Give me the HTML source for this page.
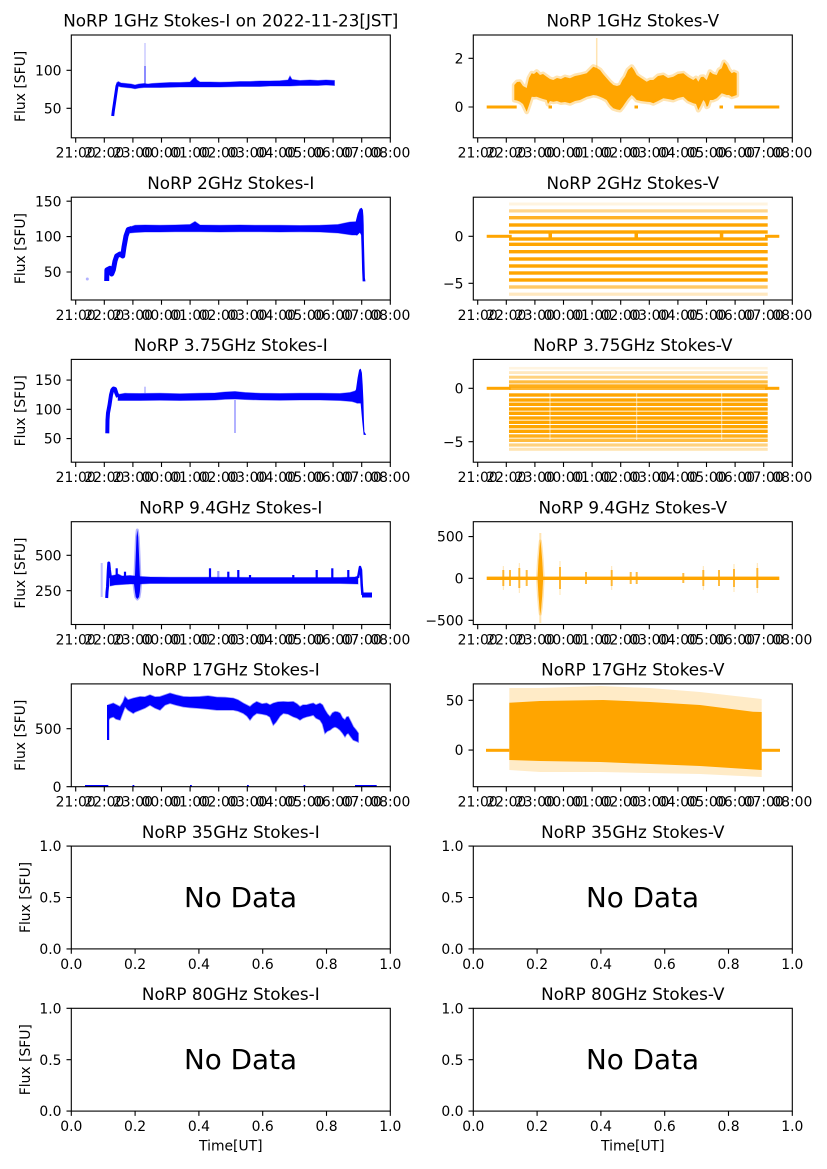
<!DOCTYPE html>
<html><head><meta charset="utf-8"><style>
html,body{margin:0;padding:0;background:#fff;}
svg{display:block;}
text{font-family:"DejaVu Sans","Liberation Sans",sans-serif;fill:#000;}
.t{font-size:16.8px;text-anchor:middle;}
.xt text{font-size:13.9px;text-anchor:middle;}
.yt text{font-size:13.9px;text-anchor:end;}
.yl{font-size:13.9px;text-anchor:middle;}
.nd{font-size:27.8px;}
.sp{fill:none;stroke:#000;stroke-width:1.1;}
.tk{fill:none;stroke:#000;stroke-width:1.1;}
</style></head><body>
<svg width="827" height="1169" viewBox="0 0 827 1169" xmlns="http://www.w3.org/2000/svg">
<rect width="827" height="1169" fill="#fff"/>

<!-- ================= ROW 1 ================= -->
<g fill="#0000ff" stroke="#0000ff">
<polyline points="112.7,116 113.3,111 114.5,103 115.8,94 117,86 118.3,82.5" fill="none" stroke-width="3" stroke-linejoin="round"/>
<polygon stroke-width="1" stroke-opacity="0.4" points="118,81.5 121,83 126,83.5 131,84 135,85 139,84 144,83.5 148,84 152,83.5 160,83 170,82.5 180,82.5 190,82 193,79 195,77 197,80 200,82 210,82 220,82.3 230,82 240,81.5 250,81.5 260,81 270,81 280,80.8 288,80 290,76 292,79.5 300,80.5 310,80 318,80.5 326,80 334.5,80.5 334.5,85.5 326,85 318,85.5 310,85.5 300,85.5 290,86 280,86 270,86 260,86.5 250,86.5 240,86.5 230,86.8 220,87 210,87 200,87 190,87 180,87 170,87.3 160,87.5 150,87.5 144,87.5 139,88 135,88.8 131,88 126,87.5 121,87 118,86"/>
<line x1="145" y1="84" x2="145" y2="66" stroke-width="1.5" stroke-opacity="0.6"/>
<line x1="145" y1="66" x2="145" y2="43" stroke-width="1.2" stroke-opacity="0.25"/>
</g>
<g fill="#ffa500">
<polygon stroke="#ffa500" stroke-opacity="0.3" stroke-width="5" stroke-linejoin="round" points="514.3,85 517,82 520,81.7 523,86 526.7,88 529,78 531.7,73.3 534,74 536.7,71.7 540,75 543,74 546.7,76.7 550,79 553.3,80 557,78 561,79 565,77 570,78.3 575,76 580,75 586.7,73.3 590,70 593.3,66.7 596.7,68 600,70 603,74 606.7,78.3 610,82 613.3,85 617,86 620,85 622.5,80 625,76.7 628,70 631.7,66.7 634,70 636.7,75 641,78 646.7,81.7 650,80 653.3,80 658,76 663.3,75 668,78 673.3,76.7 678,74 683.3,73.3 688,77 693.3,80 696,78 698.3,81.7 701,77 703.3,76.7 706.7,80 710,71.7 713,74 716.7,75 719,70 721.7,68.3 724,62 726.7,65 729,70 731.7,73.3 734,72 736.7,73.3 736.7,95 734,96 731.7,96.7 729,95 726.7,95 724,94 721.7,93.3 719,96 716.7,98.3 713,100 710,100 708,106 706.7,106.7 705,102 703.3,100 700.5,106 698.3,110 696,104 693.3,103.3 688,101 683.3,96.7 678,98 673.3,100 668,99 663.3,98.3 658,101 653.3,103.3 650,102 646.7,101.7 641,101 636.7,100 634,97 631.7,95 628,99 625,103.3 622.5,107 620,110 617,109.5 613.3,108.3 610,105 606.7,100 603,98 600,96.7 596.7,95.5 593.3,95 590,96 586.7,96.7 580,100 575,101 570,103.3 565,102 561,102.5 557,101 553.3,101.7 550,101 548,104 546.7,100 543,99 540,98 536.7,96.7 534,97 531.7,96.7 529,105 526.7,111.7 523,104 520,101.7 517,100.5 514.3,100"/>
<line x1="596.7" y1="70" x2="596.7" y2="38" stroke="#ffa500" stroke-width="1.5" stroke-opacity="0.3"/>
<rect x="486.7" y="105.5" width="30" height="3"/>
<rect x="734.3" y="105.5" width="45" height="3"/>
<rect x="548.5" y="105.5" width="3.5" height="3"/>
<rect x="634.5" y="105.5" width="3.5" height="3"/>
<rect x="719.5" y="105.5" width="3.5" height="3"/>
</g>

<!-- ================= ROW 2 ================= -->
<g fill="#0000ff" stroke="#0000ff">
<circle cx="87.3" cy="279" r="1.5" stroke="none" fill-opacity="0.3"/>
<polyline points="106.7,281 106.9,270 110,268.3 111.7,274 113.3,270 115,261 116.7,256 120,254 122.7,256 124,247 126,236 128.3,229.5 131.7,228.5" fill="none" stroke-width="5" stroke-linejoin="round"/>
<polygon stroke-width="1" stroke-opacity="0.4" points="130,227 135,225.3 145,225 160,225.3 175,225 190,224.5 195,221.5 200,225 220,225.3 240,225 260,225.3 280,225.3 300,225.5 320,225.3 338,224.5 345,223 350,222 355,221.7 357,222 357,235 352,235 345,234 338,233 320,232 300,231.7 280,232 260,231.7 240,231.7 220,232 200,231.7 190,231.7 175,231.7 160,232 145,232 135,232.5 130,233"/>
<polygon stroke-width="0.8" points="356,222 358,214 360,209 361.5,208.3 362.5,210 363,216 363.3,225 363.5,240 364,260 364.5,278 365,281 363,281 362.5,270 362,250 361.5,235 360,232 357,235"/>
</g>
<g fill="#ffa500">
<rect x="509" y="223.3" width="258.7" height="3.4"/>
<rect x="509" y="230.3" width="258.7" height="3.4"/>
<rect x="509" y="237.3" width="258.7" height="3.4"/>
<rect x="509" y="242.6" width="258.7" height="3.4"/>
<rect x="509" y="250" width="258.7" height="3.4"/>
<rect x="509" y="257.3" width="258.7" height="3.4"/>
<rect x="509" y="264.3" width="258.7" height="3.4"/>
<rect x="509" y="271.3" width="258.7" height="3.4"/>
<rect x="509" y="278.3" width="258.7" height="3.4"/>
<rect x="509" y="216" width="258.7" height="3.4" fill-opacity="0.85"/>
<rect x="509" y="285.3" width="258.7" height="3.4" fill-opacity="0.6"/>
<rect x="509" y="209.3" width="258.7" height="3.2" fill-opacity="0.45"/>
<rect x="509" y="292.6" width="258.7" height="3.2" fill-opacity="0.25"/>
<rect x="509" y="202.5" width="258.7" height="3" fill-opacity="0.12"/>
<rect x="486.7" y="234.8" width="25" height="3"/>
<rect x="765" y="234.8" width="14.3" height="3"/>
<rect x="548.5" y="233.5" width="3.5" height="4"/>
<rect x="634.5" y="233.5" width="3.5" height="4"/>
<rect x="719.8" y="233.5" width="3.5" height="4"/>
</g>

<!-- ================= ROW 3 ================= -->
<g fill="#0000ff" stroke="#0000ff">
<polyline points="107.3,433.3 107.5,420 108,413 109.5,405 111,395 112.3,390 113.5,388.5 115,389 116.3,393 118,397" fill="none" stroke-width="4" stroke-linejoin="round"/>
<polygon stroke-width="1" stroke-opacity="0.4" points="118,394.5 125,393.3 140,393.5 160,393.3 180,393.8 200,393.3 215,393 225,392 235,391.5 245,392.5 260,393.3 280,393.5 300,393.3 320,393.3 340,393.5 350,392.5 355,391 357,389 357,403 352,401.5 340,400.5 320,400 300,400 280,400.3 260,400 245,399.5 235,399 225,399.3 215,400 200,400.3 180,400.5 160,400.3 140,400.5 125,400.5 118,400.5"/>
<polygon stroke-width="0.8" points="356,392 358,378 359.5,370 360.5,369.3 361.5,373 362.3,385 363,400 363.5,420 364,432 365.5,434.5 364,434.5 362.5,420 361,403 357,403"/>
<line x1="235" y1="400" x2="235" y2="433" stroke-width="2" stroke-opacity="0.3"/>
<line x1="145" y1="393" x2="145" y2="386.7" stroke-width="1.5" stroke-opacity="0.3"/>
</g>
<g fill="#ffa500">
<rect x="509" y="393.3" width="258.7" height="3.4"/>
<rect x="509" y="398.3" width="258.7" height="3.4"/>
<rect x="509" y="402.6" width="258.7" height="3.4"/>
<rect x="509" y="407.3" width="258.7" height="3.4"/>
<rect x="509" y="411.6" width="258.7" height="3.4"/>
<rect x="509" y="416.3" width="258.7" height="3.4"/>
<rect x="509" y="420.6" width="258.7" height="3.4"/>
<rect x="509" y="425" width="258.7" height="3.4"/>
<rect x="509" y="429.6" width="258.7" height="3.4"/>
<rect x="509" y="384.3" width="258.7" height="3.4" fill-opacity="0.9"/>
<rect x="509" y="387" width="258.7" height="3" fill-opacity="0.8"/>
<rect x="509" y="380.3" width="258.7" height="3.2" fill-opacity="0.75"/>
<rect x="509" y="434.3" width="258.7" height="3.4" fill-opacity="0.9"/>
<rect x="509" y="438.6" width="258.7" height="3.4" fill-opacity="0.75"/>
<rect x="509" y="375.7" width="258.7" height="3" fill-opacity="0.5"/>
<rect x="509" y="371.2" width="258.7" height="2.8" fill-opacity="0.25"/>
<rect x="509" y="366.9" width="258.7" height="2.6" fill-opacity="0.12"/>
<rect x="509" y="443.4" width="258.7" height="3.2" fill-opacity="0.5"/>
<rect x="509" y="447.8" width="258.7" height="3" fill-opacity="0.3"/>
<rect x="486.7" y="386.8" width="24" height="3"/>
<rect x="765" y="386.8" width="14.3" height="3"/>
</g>
<g stroke="#fff" stroke-width="1" stroke-opacity="0.6">
<line x1="550" y1="392" x2="550" y2="440"/>
<line x1="636.7" y1="392" x2="636.7" y2="440"/>
<line x1="721.7" y1="392" x2="721.7" y2="440"/>
</g>

<!-- ================= ROW 4 ================= -->
<g fill="#0000ff" stroke="#0000ff">
<line x1="101.7" y1="563" x2="101.7" y2="597" stroke-width="2" stroke-opacity="0.25"/>
<polyline points="106.7,598 107,592 107.5,587 108.3,570 108.8,563 109.5,570 110.5,578" fill="none" stroke-width="3" stroke-linejoin="round"/>
<polygon stroke-width="1" stroke-opacity="0.4" points="110,576 115,575 118,574 122,576 130,575.5 140,576.5 150,577 170,577.3 200,577.3 230,577.3 260,577.5 290,577.5 320,577.5 340,577.5 355,577 358,576 358,584 340,583.5 320,583.5 290,583.5 260,583.5 230,583.5 200,583.5 170,583.5 150,583.5 140,584 130,584 122,584.5 115,585 110,586"/>
<g stroke-width="2.2" fill="none">
<line x1="116.7" y1="578" x2="116.7" y2="568.3"/>
<line x1="125" y1="578" x2="125" y2="571.7"/>
<line x1="210" y1="578" x2="210" y2="568.3"/>
<line x1="218.3" y1="578" x2="218.3" y2="571" stroke-opacity="0.4"/>
<line x1="228.3" y1="578" x2="228.3" y2="571.7"/>
<line x1="238.3" y1="578" x2="238.3" y2="570"/>
<line x1="250" y1="578" x2="250" y2="575"/>
<line x1="293.3" y1="578" x2="293.3" y2="575"/>
<line x1="316.7" y1="578" x2="316.7" y2="570"/>
<line x1="332.3" y1="578" x2="332.3" y2="568.3"/>
<line x1="348.3" y1="578" x2="348.3" y2="570"/>
</g>
<polygon stroke-width="3" stroke-opacity="0.3" stroke-linejoin="round" points="134,584 135,575 135.8,555 136.5,537 137.3,530 138.2,537 139,555 139.8,575 140.5,584 139.8,592 139,597 137.3,599 135.8,597 135,592"/>
<polyline points="358,578 360,567 361,570 361.7,585 362.5,595" fill="none" stroke-width="2.5" stroke-linejoin="round"/>
<rect x="362" y="592.5" width="10" height="5" stroke="none"/>
</g>
<g fill="#ffa500" stroke="#ffa500">
<rect x="486.7" y="576.6" width="292.6" height="3.4" stroke="none"/>
<line x1="540.3" y1="533" x2="540.3" y2="623" stroke-width="2" stroke-opacity="0.3"/>
<polygon stroke-width="3" stroke-opacity="0.3" stroke-linejoin="round" points="537.5,578 538.5,560 539.5,548 540.3,541 541.2,548 542.2,560 543.2,578 542.2,596 541.2,608 540.3,614 539.5,608 538.5,596"/>
<g stroke-width="2" stroke-opacity="0.75" fill="none">
<line x1="503.3" y1="570" x2="503.3" y2="586"/>
<line x1="510" y1="570" x2="510" y2="586"/>
<line x1="519.3" y1="568" x2="519.3" y2="588"/>
<line x1="526.7" y1="570" x2="526.7" y2="586"/>
<line x1="560" y1="567" x2="560" y2="589"/>
<line x1="586" y1="572" x2="586" y2="584"/>
<line x1="611.7" y1="570" x2="611.7" y2="586"/>
<line x1="630.7" y1="572" x2="630.7" y2="584"/>
<line x1="636.7" y1="572" x2="636.7" y2="584"/>
<line x1="683.3" y1="573" x2="683.3" y2="583"/>
<line x1="703.3" y1="570" x2="703.3" y2="586"/>
<line x1="719" y1="570" x2="719" y2="586"/>
<line x1="734" y1="569" x2="734" y2="587"/>
<line x1="757.3" y1="568" x2="757.3" y2="588"/>
</g>
<g stroke-width="1" stroke-opacity="0.3" fill="none">
<line x1="503.3" y1="566" x2="503.3" y2="590"/>
<line x1="519.3" y1="563" x2="519.3" y2="593"/>
<line x1="560" y1="561" x2="560" y2="595"/>
<line x1="611.7" y1="566" x2="611.7" y2="590"/>
<line x1="703.3" y1="566" x2="703.3" y2="590"/>
<line x1="734" y1="564" x2="734" y2="592"/>
<line x1="757.3" y1="563" x2="757.3" y2="593"/>
</g>
</g>

<!-- ================= ROW 5 ================= -->
<g fill="#0000ff" stroke="#0000ff">
<rect x="107" y="705" width="2.2" height="35" stroke="none"/>
<polygon stroke-width="1.5" stroke-opacity="0.4" points="108.3,705 113.3,703.3 120,706.7 123,702 125,696.7 128,700 133.3,698.3 140,696.7 145,697 150,695 155,697 160,696.7 165,695 170,693.3 176,695 183.3,696.7 190,697 200,696.7 208,696 216.7,697.3 225,697.5 233.3,698.3 238,700 243.3,703.3 250,706.7 253,704 256.7,701.7 262,704 266.7,703.3 270,705 273.3,703.3 278,702 283.3,701.7 288,702 293.3,701.7 297,704 300,706.7 303,705 306.7,705 310,704 313.3,703.3 316,705 320,703.3 322.5,705 325,710 327.5,714 330,716.7 332.5,713 335,711.7 337.5,712 340,713.3 342.5,718 345,720 346.7,717 348.3,716.7 351,722 353.3,726.7 356,730 358.3,733.3 358.3,742 356,741 353.3,740 351,737 348.3,733.3 346.7,734 345,736.7 342.5,733 340,730 337.5,728 335,726.7 332.5,728 330,730 327.5,731 325,733.3 322.5,724 320,720 316,718 313.3,715 310,716 306.7,716.7 303,718 300,720 297,718 293.3,716.7 288,714 283.3,713.3 280,716 276,722 273.3,725 270,717 266.7,715 262,714 256.7,713.3 253,716 250,720 247,716 243.3,713.3 238,711 233.3,710 225,710 216.7,710 208,709 200,708.3 190,707.5 183.3,706.7 176,705 170,703.3 165,705 160,710 155,708 150,705 145,708 140,710 135,712 133.3,713.3 128,710 125,706.7 123,712 120,720 116,719 113.3,716.7 110,718 108.3,720"/>
<g stroke="none">
<rect x="85" y="785" width="23.3" height="1.8"/>
<rect x="132.5" y="785" width="1.8" height="1.8"/>
<rect x="190" y="785" width="1.8" height="1.8"/>
<rect x="247" y="785" width="1.8" height="1.8"/>
<rect x="303.5" y="785" width="1.8" height="1.8"/>
<rect x="355" y="785" width="21.7" height="1.8"/>
</g>
</g>
<g fill="#ffa500">
<polygon fill-opacity="0.22" points="509.3,688 540,688 600,686 650,688 700,692 753,698 761.7,699 761.7,777 700,774 600,772 540,772 509.3,770"/>
<polygon points="509.3,702.7 540,701 603,700 650,702 700,705 753,711.7 761.7,712 761.7,770 700,766 600,762 540,761 509.3,760"/>
<rect x="486" y="748.8" width="23.3" height="3"/>
<rect x="761.7" y="748.8" width="18.3" height="3"/>
</g>

<!-- ================= SPINES ================= -->
<g class="sp">
<rect x="71.3" y="35" width="319" height="102.8"/>
<rect x="473.3" y="35" width="319" height="102.8"/>
<rect x="71.3" y="197.2" width="319" height="102.8"/>
<rect x="473.3" y="197.2" width="319" height="102.8"/>
<rect x="71.3" y="359.4" width="319" height="102.8"/>
<rect x="473.3" y="359.4" width="319" height="102.8"/>
<rect x="71.3" y="521.7" width="319" height="102.8"/>
<rect x="473.3" y="521.7" width="319" height="102.8"/>
<rect x="71.3" y="683.9" width="319" height="102.8"/>
<rect x="473.3" y="683.9" width="319" height="102.8"/>
<rect x="71.3" y="846.1" width="319" height="102.8"/>
<rect x="473.3" y="846.1" width="319" height="102.8"/>
<rect x="71.3" y="1008.3" width="319" height="102.8"/>
<rect x="473.3" y="1008.3" width="319" height="102.8"/>
</g>

<!-- ================= TITLES ================= -->
<text class="t" x="230.8" y="26.7">NoRP 1GHz Stokes-I on 2022-11-23[JST]</text>
<text class="t" x="632.8" y="26.7">NoRP 1GHz Stokes-V</text>
<text class="t" x="230.8" y="188.9">NoRP 2GHz Stokes-I</text>
<text class="t" x="632.8" y="188.9">NoRP 2GHz Stokes-V</text>
<text class="t" x="230.8" y="351.1">NoRP 3.75GHz Stokes-I</text>
<text class="t" x="632.8" y="351.1">NoRP 3.75GHz Stokes-V</text>
<text class="t" x="230.8" y="513.4">NoRP 9.4GHz Stokes-I</text>
<text class="t" x="632.8" y="513.4">NoRP 9.4GHz Stokes-V</text>
<text class="t" x="230.8" y="675.6">NoRP 17GHz Stokes-I</text>
<text class="t" x="632.8" y="675.6">NoRP 17GHz Stokes-V</text>
<text class="t" x="230.8" y="837.8">NoRP 35GHz Stokes-I</text>
<text class="t" x="632.8" y="837.8">NoRP 35GHz Stokes-V</text>
<text class="t" x="230.8" y="1000">NoRP 80GHz Stokes-I</text>
<text class="t" x="632.8" y="1000">NoRP 80GHz Stokes-V</text>

<!-- ================= Y LABELS ================= -->
<text class="yl" transform="translate(25,86.4) rotate(-90)">Flux [SFU]</text>
<text class="yl" transform="translate(25,248.6) rotate(-90)">Flux [SFU]</text>
<text class="yl" transform="translate(25,410.8) rotate(-90)">Flux [SFU]</text>
<text class="yl" transform="translate(25,573.1) rotate(-90)">Flux [SFU]</text>
<text class="yl" transform="translate(25,735.3) rotate(-90)">Flux [SFU]</text>
<text class="yl" transform="translate(30,897.5) rotate(-90)">Flux [SFU]</text>
<text class="yl" transform="translate(30,1059.7) rotate(-90)">Flux [SFU]</text>

<!-- ================= TIME X AXES ================= -->
<g transform="translate(0,137.8)" class="xt"><path class="tk" d="M75.7,0v4.8M104.3,0v4.8M132.9,0v4.8M161.5,0v4.8M190.1,0v4.8M218.7,0v4.8M247.3,0v4.8M275.9,0v4.8M304.5,0v4.8M333.1,0v4.8M361.7,0v4.8M390.3,0v4.8"/><text x="75.7" y="19.9">21:00</text><text x="104.3" y="19.9">22:00</text><text x="132.9" y="19.9">23:00</text><text x="161.5" y="19.9">00:00</text><text x="190.1" y="19.9">01:00</text><text x="218.7" y="19.9">02:00</text><text x="247.3" y="19.9">03:00</text><text x="275.9" y="19.9">04:00</text><text x="304.5" y="19.9">05:00</text><text x="333.1" y="19.9">06:00</text><text x="361.7" y="19.9">07:00</text><text x="390.3" y="19.9">08:00</text></g>
<g transform="translate(402,137.8)" class="xt"><path class="tk" d="M75.7,0v4.8M104.3,0v4.8M132.9,0v4.8M161.5,0v4.8M190.1,0v4.8M218.7,0v4.8M247.3,0v4.8M275.9,0v4.8M304.5,0v4.8M333.1,0v4.8M361.7,0v4.8M390.3,0v4.8"/><text x="75.7" y="19.9">21:00</text><text x="104.3" y="19.9">22:00</text><text x="132.9" y="19.9">23:00</text><text x="161.5" y="19.9">00:00</text><text x="190.1" y="19.9">01:00</text><text x="218.7" y="19.9">02:00</text><text x="247.3" y="19.9">03:00</text><text x="275.9" y="19.9">04:00</text><text x="304.5" y="19.9">05:00</text><text x="333.1" y="19.9">06:00</text><text x="361.7" y="19.9">07:00</text><text x="390.3" y="19.9">08:00</text></g>
<g transform="translate(0,300)" class="xt"><path class="tk" d="M75.7,0v4.8M104.3,0v4.8M132.9,0v4.8M161.5,0v4.8M190.1,0v4.8M218.7,0v4.8M247.3,0v4.8M275.9,0v4.8M304.5,0v4.8M333.1,0v4.8M361.7,0v4.8M390.3,0v4.8"/><text x="75.7" y="19.9">21:00</text><text x="104.3" y="19.9">22:00</text><text x="132.9" y="19.9">23:00</text><text x="161.5" y="19.9">00:00</text><text x="190.1" y="19.9">01:00</text><text x="218.7" y="19.9">02:00</text><text x="247.3" y="19.9">03:00</text><text x="275.9" y="19.9">04:00</text><text x="304.5" y="19.9">05:00</text><text x="333.1" y="19.9">06:00</text><text x="361.7" y="19.9">07:00</text><text x="390.3" y="19.9">08:00</text></g>
<g transform="translate(402,300)" class="xt"><path class="tk" d="M75.7,0v4.8M104.3,0v4.8M132.9,0v4.8M161.5,0v4.8M190.1,0v4.8M218.7,0v4.8M247.3,0v4.8M275.9,0v4.8M304.5,0v4.8M333.1,0v4.8M361.7,0v4.8M390.3,0v4.8"/><text x="75.7" y="19.9">21:00</text><text x="104.3" y="19.9">22:00</text><text x="132.9" y="19.9">23:00</text><text x="161.5" y="19.9">00:00</text><text x="190.1" y="19.9">01:00</text><text x="218.7" y="19.9">02:00</text><text x="247.3" y="19.9">03:00</text><text x="275.9" y="19.9">04:00</text><text x="304.5" y="19.9">05:00</text><text x="333.1" y="19.9">06:00</text><text x="361.7" y="19.9">07:00</text><text x="390.3" y="19.9">08:00</text></g>
<g transform="translate(0,462.2)" class="xt"><path class="tk" d="M75.7,0v4.8M104.3,0v4.8M132.9,0v4.8M161.5,0v4.8M190.1,0v4.8M218.7,0v4.8M247.3,0v4.8M275.9,0v4.8M304.5,0v4.8M333.1,0v4.8M361.7,0v4.8M390.3,0v4.8"/><text x="75.7" y="19.9">21:00</text><text x="104.3" y="19.9">22:00</text><text x="132.9" y="19.9">23:00</text><text x="161.5" y="19.9">00:00</text><text x="190.1" y="19.9">01:00</text><text x="218.7" y="19.9">02:00</text><text x="247.3" y="19.9">03:00</text><text x="275.9" y="19.9">04:00</text><text x="304.5" y="19.9">05:00</text><text x="333.1" y="19.9">06:00</text><text x="361.7" y="19.9">07:00</text><text x="390.3" y="19.9">08:00</text></g>
<g transform="translate(402,462.2)" class="xt"><path class="tk" d="M75.7,0v4.8M104.3,0v4.8M132.9,0v4.8M161.5,0v4.8M190.1,0v4.8M218.7,0v4.8M247.3,0v4.8M275.9,0v4.8M304.5,0v4.8M333.1,0v4.8M361.7,0v4.8M390.3,0v4.8"/><text x="75.7" y="19.9">21:00</text><text x="104.3" y="19.9">22:00</text><text x="132.9" y="19.9">23:00</text><text x="161.5" y="19.9">00:00</text><text x="190.1" y="19.9">01:00</text><text x="218.7" y="19.9">02:00</text><text x="247.3" y="19.9">03:00</text><text x="275.9" y="19.9">04:00</text><text x="304.5" y="19.9">05:00</text><text x="333.1" y="19.9">06:00</text><text x="361.7" y="19.9">07:00</text><text x="390.3" y="19.9">08:00</text></g>
<g transform="translate(0,624.5)" class="xt"><path class="tk" d="M75.7,0v4.8M104.3,0v4.8M132.9,0v4.8M161.5,0v4.8M190.1,0v4.8M218.7,0v4.8M247.3,0v4.8M275.9,0v4.8M304.5,0v4.8M333.1,0v4.8M361.7,0v4.8M390.3,0v4.8"/><text x="75.7" y="19.9">21:00</text><text x="104.3" y="19.9">22:00</text><text x="132.9" y="19.9">23:00</text><text x="161.5" y="19.9">00:00</text><text x="190.1" y="19.9">01:00</text><text x="218.7" y="19.9">02:00</text><text x="247.3" y="19.9">03:00</text><text x="275.9" y="19.9">04:00</text><text x="304.5" y="19.9">05:00</text><text x="333.1" y="19.9">06:00</text><text x="361.7" y="19.9">07:00</text><text x="390.3" y="19.9">08:00</text></g>
<g transform="translate(402,624.5)" class="xt"><path class="tk" d="M75.7,0v4.8M104.3,0v4.8M132.9,0v4.8M161.5,0v4.8M190.1,0v4.8M218.7,0v4.8M247.3,0v4.8M275.9,0v4.8M304.5,0v4.8M333.1,0v4.8M361.7,0v4.8M390.3,0v4.8"/><text x="75.7" y="19.9">21:00</text><text x="104.3" y="19.9">22:00</text><text x="132.9" y="19.9">23:00</text><text x="161.5" y="19.9">00:00</text><text x="190.1" y="19.9">01:00</text><text x="218.7" y="19.9">02:00</text><text x="247.3" y="19.9">03:00</text><text x="275.9" y="19.9">04:00</text><text x="304.5" y="19.9">05:00</text><text x="333.1" y="19.9">06:00</text><text x="361.7" y="19.9">07:00</text><text x="390.3" y="19.9">08:00</text></g>
<g transform="translate(0,786.7)" class="xt"><path class="tk" d="M75.7,0v4.8M104.3,0v4.8M132.9,0v4.8M161.5,0v4.8M190.1,0v4.8M218.7,0v4.8M247.3,0v4.8M275.9,0v4.8M304.5,0v4.8M333.1,0v4.8M361.7,0v4.8M390.3,0v4.8"/><text x="75.7" y="19.9">21:00</text><text x="104.3" y="19.9">22:00</text><text x="132.9" y="19.9">23:00</text><text x="161.5" y="19.9">00:00</text><text x="190.1" y="19.9">01:00</text><text x="218.7" y="19.9">02:00</text><text x="247.3" y="19.9">03:00</text><text x="275.9" y="19.9">04:00</text><text x="304.5" y="19.9">05:00</text><text x="333.1" y="19.9">06:00</text><text x="361.7" y="19.9">07:00</text><text x="390.3" y="19.9">08:00</text></g>
<g transform="translate(402,786.7)" class="xt"><path class="tk" d="M75.7,0v4.8M104.3,0v4.8M132.9,0v4.8M161.5,0v4.8M190.1,0v4.8M218.7,0v4.8M247.3,0v4.8M275.9,0v4.8M304.5,0v4.8M333.1,0v4.8M361.7,0v4.8M390.3,0v4.8"/><text x="75.7" y="19.9">21:00</text><text x="104.3" y="19.9">22:00</text><text x="132.9" y="19.9">23:00</text><text x="161.5" y="19.9">00:00</text><text x="190.1" y="19.9">01:00</text><text x="218.7" y="19.9">02:00</text><text x="247.3" y="19.9">03:00</text><text x="275.9" y="19.9">04:00</text><text x="304.5" y="19.9">05:00</text><text x="333.1" y="19.9">06:00</text><text x="361.7" y="19.9">07:00</text><text x="390.3" y="19.9">08:00</text></g>

<!-- ================= 0-1 X AXES ================= -->
<g transform="translate(0,948.9)" class="xt"><path class="tk" d="M71.3,0v4.8M135.1,0v4.8M198.9,0v4.8M262.7,0v4.8M326.5,0v4.8M390.3,0v4.8"/><text x="71.3" y="19.9">0.0</text><text x="135.1" y="19.9">0.2</text><text x="198.9" y="19.9">0.4</text><text x="262.7" y="19.9">0.6</text><text x="326.5" y="19.9">0.8</text><text x="390.3" y="19.9">1.0</text></g>
<g transform="translate(402,948.9)" class="xt"><path class="tk" d="M71.3,0v4.8M135.1,0v4.8M198.9,0v4.8M262.7,0v4.8M326.5,0v4.8M390.3,0v4.8"/><text x="71.3" y="19.9">0.0</text><text x="135.1" y="19.9">0.2</text><text x="198.9" y="19.9">0.4</text><text x="262.7" y="19.9">0.6</text><text x="326.5" y="19.9">0.8</text><text x="390.3" y="19.9">1.0</text></g>
<g transform="translate(0,1111.1)" class="xt"><path class="tk" d="M71.3,0v4.8M135.1,0v4.8M198.9,0v4.8M262.7,0v4.8M326.5,0v4.8M390.3,0v4.8"/><text x="71.3" y="19.9">0.0</text><text x="135.1" y="19.9">0.2</text><text x="198.9" y="19.9">0.4</text><text x="262.7" y="19.9">0.6</text><text x="326.5" y="19.9">0.8</text><text x="390.3" y="19.9">1.0</text></g>
<g transform="translate(402,1111.1)" class="xt"><path class="tk" d="M71.3,0v4.8M135.1,0v4.8M198.9,0v4.8M262.7,0v4.8M326.5,0v4.8M390.3,0v4.8"/><text x="71.3" y="19.9">0.0</text><text x="135.1" y="19.9">0.2</text><text x="198.9" y="19.9">0.4</text><text x="262.7" y="19.9">0.6</text><text x="326.5" y="19.9">0.8</text><text x="390.3" y="19.9">1.0</text></g>
<text class="yl" x="230.8" y="1150.5">Time[UT]</text>
<text class="yl" x="632.8" y="1150.5">Time[UT]</text>

<!-- ================= Y AXES ================= -->
<g class="yt">
<path class="tk" d="M71.3,70.3h-4.8M71.3,108.3h-4.8"/>
<text x="61.5" y="75.4">100</text><text x="61.5" y="113.4">50</text>
<path class="tk" d="M473.3,58.3h-4.8M473.3,107h-4.8"/>
<text x="463.5" y="63.4">2</text><text x="463.5" y="112.1">0</text>

<path class="tk" d="M71.3,201.2h-4.8M71.3,236.6h-4.8M71.3,272h-4.8"/>
<text x="61.5" y="206.3">150</text><text x="61.5" y="241.7">100</text><text x="61.5" y="277.1">50</text>
<path class="tk" d="M473.3,236.3h-4.8M473.3,283.3h-4.8"/>
<text x="463.5" y="241.4">0</text><text x="463.5" y="288.4">−5</text>

<path class="tk" d="M71.3,380.1h-4.8M71.3,409.3h-4.8M71.3,438.6h-4.8"/>
<text x="61.5" y="385.2">150</text><text x="61.5" y="414.4">100</text><text x="61.5" y="443.7">50</text>
<path class="tk" d="M473.3,388.3h-4.8M473.3,441.7h-4.8"/>
<text x="463.5" y="393.4">0</text><text x="463.5" y="446.8">−5</text>

<path class="tk" d="M71.3,555.3h-4.8M71.3,590.7h-4.8"/>
<text x="61.5" y="560.4">500</text><text x="61.5" y="595.8">250</text>
<path class="tk" d="M473.3,536.6h-4.8M473.3,578.3h-4.8M473.3,620.3h-4.8"/>
<text x="463.5" y="541.7">500</text><text x="463.5" y="583.4">0</text><text x="463.5" y="625.4">−500</text>

<path class="tk" d="M71.3,728.7h-4.8M71.3,786.7h-4.8"/>
<text x="61.5" y="733.8">500</text><text x="61.5" y="791.8">0</text>
<path class="tk" d="M473.3,700.3h-4.8M473.3,750.1h-4.8"/>
<text x="463.5" y="705.4">50</text><text x="463.5" y="755.2">0</text>

<path class="tk" d="M71.3,846.1h-4.8M71.3,897.5h-4.8M71.3,948.9h-4.8"/>
<text x="61.5" y="851.2">1.0</text><text x="61.5" y="902.6">0.5</text><text x="61.5" y="954">0.0</text>
<path class="tk" d="M473.3,846.1h-4.8M473.3,897.5h-4.8M473.3,948.9h-4.8"/>
<text x="463.5" y="851.2">1.0</text><text x="463.5" y="902.6">0.5</text><text x="463.5" y="954">0.0</text>

<path class="tk" d="M71.3,1008.3h-4.8M71.3,1059.7h-4.8M71.3,1111.1h-4.8"/>
<text x="61.5" y="1013.4">1.0</text><text x="61.5" y="1064.8">0.5</text><text x="61.5" y="1116.2">0.0</text>
<path class="tk" d="M473.3,1008.3h-4.8M473.3,1059.7h-4.8M473.3,1111.1h-4.8"/>
<text x="463.5" y="1013.4">1.0</text><text x="463.5" y="1064.8">0.5</text><text x="463.5" y="1116.2">0.0</text>
</g>

<!-- ================= NO DATA ================= -->
<text class="nd" x="184" y="907">No Data</text>
<text class="nd" x="586" y="907">No Data</text>
<text class="nd" x="184" y="1069.2">No Data</text>
<text class="nd" x="586" y="1069.2">No Data</text>
</svg>
</body></html>
